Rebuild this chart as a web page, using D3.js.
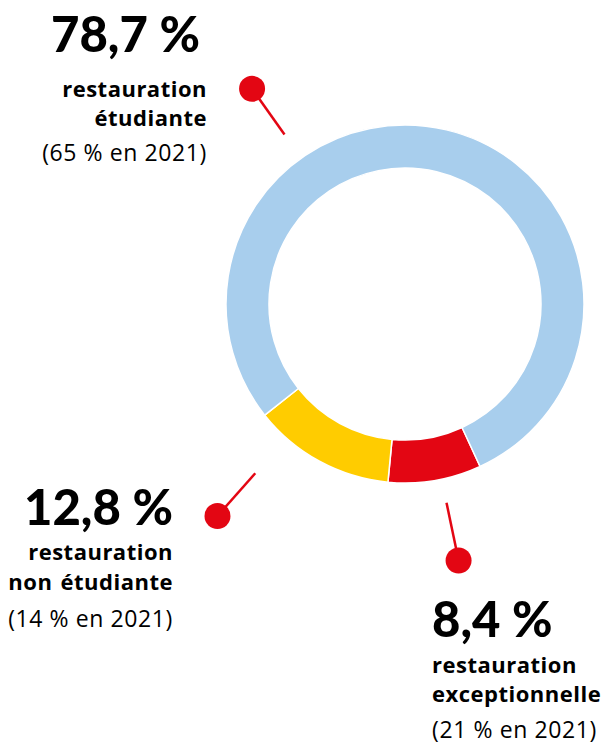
<!DOCTYPE html>
<html>
<head>
<meta charset="utf-8">
<script src="https://cdn.jsdelivr.net/npm/d3@7"></script>
<style>
  body { margin: 0; background: #fff; }
  text { font-family: "Open Sans", sans-serif; fill: #000; font-variant-ligatures: none; }
  .big { font-family: Lato, sans-serif; font-weight: 900; font-size: 49px; letter-spacing: 0; word-spacing: 0; }
  .lab { font-weight: 700; font-size: 22px; letter-spacing: 0.5px; word-spacing: 2px; }
  .prev { font-weight: 400; font-size: 23px; letter-spacing: 0.6px; }
</style>
</head>
<body>
<div id="chart"></div>
<script>
// categories, in drawing order (clockwise from the red slice)
const categories = ['restauration exceptionnelle', 'restauration non étudiante', 'restauration étudiante']
const shares = [8.4, 12.8, 78.7]
const shareLabels = ['8,4 %', '12,8 %', '78,7 %']
const labelLines = [['restauration', 'exceptionnelle'], ['restauration', 'non étudiante'], ['restauration', 'étudiante']]
const previous = ['(21 % en 2021)', '(14 % en 2021)', '(65 % en 2021)']
const colors = ['#E30613', '#FFCC00', '#A8CEED']

const width = 606, height = 747
const cx = 405, cy = 304
const outerR = 179, innerR = 136
const startDeg = 155.2

const svg = d3.select('#chart').append('svg')
  .attr('width', width)
  .attr('height', height)

const pie = d3.pie()
  .sort(null)
  .value(d => d)
  .startAngle(startDeg * Math.PI / 180)
  .endAngle((startDeg + 360) * Math.PI / 180)

const arc = d3.arc().innerRadius(innerR).outerRadius(outerR)

const g = svg.append('g').attr('transform', `translate(${cx},${cy})`)

g.selectAll('path')
  .data(pie(shares))
  .join('path')
  .attr('d', arc)
  .attr('fill', (d, i) => colors[i])
  .attr('stroke', '#fff')
  .attr('stroke-width', 1.5)

// leader lines: angle (deg), line start radius, dot radius
const leaders = [
  { angle: 168.2, r0: 203, r1: 262 },
  { angle: 221.5, r0: 226, r1: 283 },
  { angle: 324.6, r0: 208, r1: 264 }
]
const rad = a => a * Math.PI / 180

g.selectAll('line.leader')
  .data(leaders)
  .join('line')
  .attr('class', 'leader')
  .attr('x1', d => d3.pointRadial(rad(d.angle), d.r0)[0])
  .attr('y1', d => d3.pointRadial(rad(d.angle), d.r0)[1])
  .attr('x2', d => d3.pointRadial(rad(d.angle), d.r1)[0])
  .attr('y2', d => d3.pointRadial(rad(d.angle), d.r1)[1])
  .attr('stroke', '#E30613')
  .attr('stroke-width', 2.5)

g.selectAll('circle.dot')
  .data(leaders)
  .join('circle')
  .attr('class', 'dot')
  .attr('cx', d => d3.pointRadial(rad(d.angle), d.r1)[0])
  .attr('cy', d => d3.pointRadial(rad(d.angle), d.r1)[1])
  .attr('r', 13)
  .attr('fill', '#E30613')

// text blocks: anchor x, baselines for big number, two label lines, previous year
const blocks = [
  { x: 432, anchor: 'start', y: [637, 673, 702, 738] },
  { x: 173, anchor: 'end', y: [525, 560, 590, 627] },
  { x: 207, anchor: 'end', y: [52, 97, 126, 161] }
]

const tg = svg.selectAll('g.block')
  .data(blocks)
  .join('g')
  .attr('class', 'block')
  .attr('text-anchor', d => d.anchor)

tg.append('text')
  .attr('class', 'big')
  .attr('x', (d, i) => d.anchor === 'end' && i === 2 ? d.x - 7 : d.x)
  .attr('y', d => d.y[0])
  .text((d, i) => shareLabels[i])

tg.each(function (d, i) {
  const sel = d3.select(this)
  labelLines[i].forEach((line, j) => {
    sel.append('text')
      .attr('class', 'lab')
      .attr('x', d.x)
      .attr('y', d.y[1 + j])
      .text(line)
  })
  sel.append('text')
    .attr('class', 'prev')
    .attr('x', d.x)
    .attr('y', d.y[3])
    .text(previous[i])
})
</script>
</body>
</html>
